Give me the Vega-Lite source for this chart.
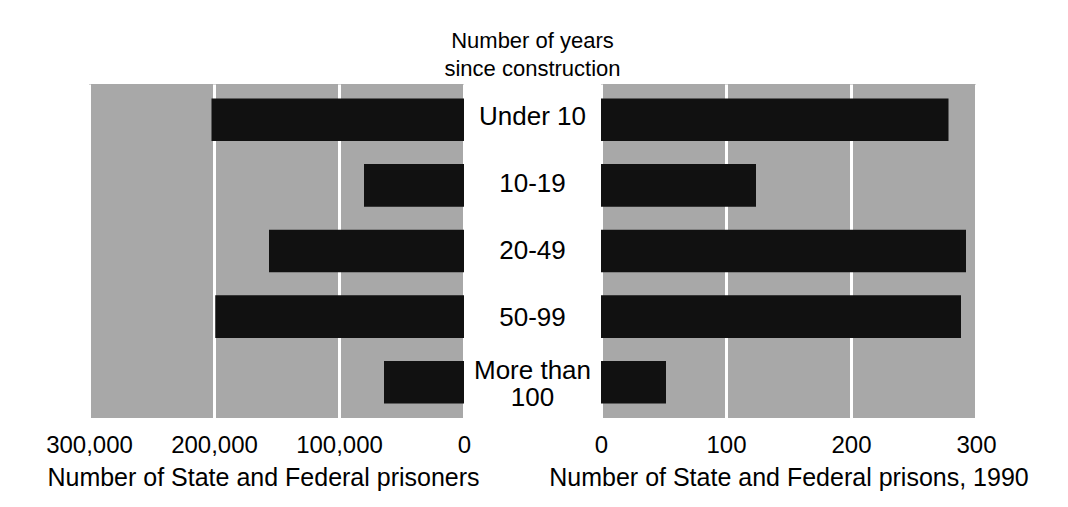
{
  "$schema": "https://vega.github.io/schema/vega-lite/v6.json",
  "padding": {"left": 45, "top": 30, "right": 5, "bottom": 5},
  "bounds": "flush",
  "spacing": 0,
  "data": {
    "values": [
      {"age": "Under 10", "label": "Under 10", "lines": 1, "prisoners": 202000, "prisons": 278},
      {"age": "10-19", "label": "10-19", "lines": 1, "prisoners": 80000, "prisons": 124},
      {"age": "20-49", "label": "20-49", "lines": 1, "prisoners": 156000, "prisons": 292},
      {"age": "50-99", "label": "50-99", "lines": 1, "prisoners": 199000, "prisons": 288},
      {"age": "More than 100", "label": "More than\n100", "lines": 2, "prisoners": 64000, "prisons": 52}
    ]
  },
  "config": {
    "font": "Liberation Sans",
    "view": {"stroke": null},
    "concat": {"spacing": 0},
    "axis": {
      "labelFontSize": 24,
      "labelColor": "#000",
      "titleFontSize": 25,
      "titleFontWeight": "normal",
      "titleColor": "#000",
      "domain": false,
      "ticks": false,
      "gridColor": "#ffffff",
      "gridWidth": 3,
      "gridOpacity": 1,
      "labelPadding": 15,
      "titlePadding": 8
    }
  },
  "hconcat": [
    {
      "width": 375,
      "height": 334,
      "view": {"fill": "#a8a8a8", "stroke": null},
      "mark": {"type": "bar", "color": "#111111"},
      "encoding": {
        "y": {
          "field": "age", "type": "nominal", "sort": null, "axis": null,
          "scale": {"paddingInner": 0.35, "paddingOuter": 0.22}
        },
        "x": {
          "field": "prisoners", "type": "quantitative",
          "scale": {"domain": [0, 300000], "reverse": true, "nice": false},
          "axis": {"values": [0, 100000, 200000, 300000], "labelExpr": "format(datum.value, ',')", "grid": true,
                   "title": "Number of State and Federal prisoners", "labelFlush": false, "titleX": 174}
        }
      }
    },
    {
      "width": 137,
      "height": 334,
      "title": {
        "text": ["Number of years", "since construction"],
        "fontSize": 22,
        "fontWeight": "normal",
        "color": "#000",
        "lineHeight": 28,
        "offset": 3,
        "anchor": "middle"
      },
      "encoding": {
        "y": {
          "field": "age", "type": "nominal", "sort": null, "axis": null,
          "scale": {"paddingInner": 0.35, "paddingOuter": 0.22}
        },
        "text": {"field": "label"}
      },
      "layer": [
        {
          "transform": [{"filter": "datum.lines == 1"}],
          "mark": {"type": "text", "fontSize": 26, "color": "#000", "align": "center", "baseline": "middle"}
        },
        {
          "transform": [{"filter": "datum.lines == 2"}],
          "mark": {"type": "text", "fontSize": 26, "color": "#000", "align": "center", "baseline": "middle", "lineBreak": "\n", "lineHeight": 27, "dy": -14}
        }
      ]
    },
    {
      "width": 375,
      "height": 334,
      "view": {"fill": "#a8a8a8", "stroke": null},
      "mark": {"type": "bar", "color": "#111111"},
      "encoding": {
        "y": {
          "field": "age", "type": "nominal", "sort": null, "axis": null,
          "scale": {"paddingInner": 0.35, "paddingOuter": 0.22}
        },
        "x": {
          "field": "prisons", "type": "quantitative",
          "scale": {"domain": [0, 300], "nice": false},
          "axis": {"values": [0, 100, 200, 300], "grid": true,
                   "title": "Number of State and Federal prisons, 1990", "labelFlush": false}
        }
      }
    }
  ]
}
